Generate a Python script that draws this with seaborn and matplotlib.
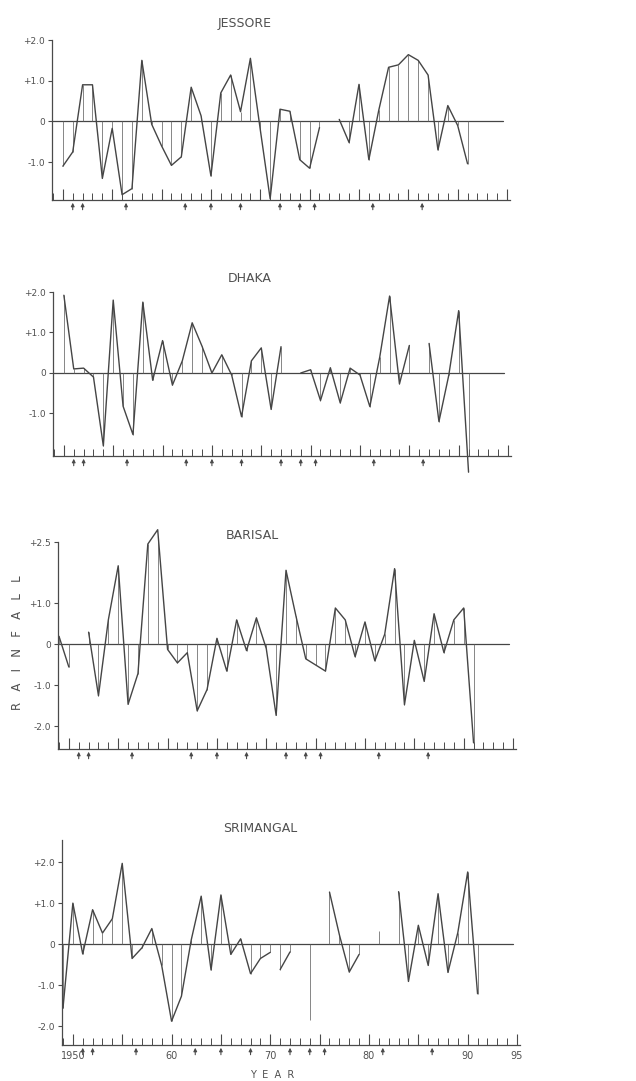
import numpy as np
import pandas as pd
import matplotlib
matplotlib.use('Agg')
import matplotlib.pyplot as plt
from matplotlib.ticker import MultipleLocator, FixedLocator
import seaborn as sns

'''
Dados lidos da figura (anomalia de chuva padronizada)
'''
nan = np.nan
years_49 = list(range(1949, 1992))
years_50 = list(range(1950, 1992))

jessore = [-1.1, -0.75, 0.9, 0.9, -1.4, -0.17, -1.8, -1.65, 1.5, -0.07,
           -0.6, -1.08, -0.87, 0.84, 0.14, -1.34, 0.7, 1.14, 0.24, 1.55,
           -0.2, -1.9, 0.3, 0.25, -0.94, -1.15, -0.15, nan, 0.05, -0.52,
           0.91, -0.94, 0.27, 1.33, 1.39, 1.64, 1.5, 1.14, -0.7, 0.39,
           -0.1, -1.04]

dhaka = [1.92, 0.1, 0.12, -0.1, -1.8, 1.8, -0.82, -1.52, 1.75, -0.18,
         0.8, -0.3, 0.3, 1.24, 0.66, 0.0, 0.45, -0.05, -1.08, 0.3,
         0.62, -0.9, 0.65, nan, 0.0, 0.08, -0.68, 0.13, -0.74, 0.12,
         -0.05, -0.83, 0.39, 1.9, -0.27, 0.68, nan, 0.73, -1.2, -0.05,
         1.54, -2.45]

barisal = [0.2, -0.55, nan, 0.3, -1.25, 0.6, 1.92, -1.46, -0.71, 2.45, 2.8,
           -0.12, -0.45, -0.2, -1.62, -1.1, 0.15, -0.65, 0.6, -0.15, 0.65,
           -0.1, -1.73, 1.81, 0.7, -0.35, -0.5, -0.65, 0.89, 0.6, -0.3,
           0.55, -0.4, 0.25, 1.85, -1.47, 0.1, -0.9, 0.75, -0.2, 0.6,
           0.89, -2.4]

srimangal = [-1.56, 1.0, -0.24, 0.84, 0.27, 0.62, 1.97, -0.35, -0.09, 0.38, -0.52,
             -1.88, -1.27, 0.11, 1.17, -0.63, 1.2, -0.25, 0.13, -0.72, -0.35,
             -0.2, -0.62, -0.19, nan, -1.84, nan, 1.27, 0.23, -0.68, -0.25,
             nan, 0.32, nan, 1.28, -0.91, 0.46, -0.52, 1.23, -0.69, 0.28,
             1.76, -1.21]

# anos marcados com seta abaixo do eixo
arrow_years = [1951, 1952, 1956.4, 1962.4, 1965, 1968, 1972, 1974, 1975.5, 1981.4, 1986.4]

stations = ['JESSORE', 'DHAKA', 'BARISAL', 'SRIMANGAL']
station_years = [years_50, years_50, years_49, years_49]
station_values = [jessore, dhaka, barisal, srimangal]
station_gaps = [[], [], [], [1971]]

ytick_vals = [[2, 1, 0, -1], [2, 1, 0, -1], [2.5, 1, 0, -1, -2], [2, 1, 0, -1, -2]]
ytick_text = [['+2.0', '+1.0', '0', '-1.0'],
              ['+2.0', '+1.0', '0', '-1.0'],
              ['+2.5', '+1.0', '0', '-1.0', '-2.0'],
              ['+2.0', '+1.0', '0', '-1.0', '-2.0']]
ylims = [(-1.93, 2.0), (-2.05, 2.0), (-2.55, 2.5), (-2.46, 2.54)]

xtick_text = ['1950', '', '60', '', '70', '', '80', '', '90', '95']

'''
Layout (pixels da figura original 636x1081)
'''
W, H = 636, 1081
# left, top, bottom
boxes = [(52, 40, 200), (53, 292, 456), (58, 542, 749), (62, 840, 1045)]
AX_W = 458
XLIM = (1948.9, 1995.3)
titles_xy = [(245, 24), (250, 279), (252, 535), (260, 828)]

LINE = '#454545'
DROP = '#666666'
AXC = '#4a4a4a'
TXT = '#505050'

sns.set_theme(style='white')
plt.rcParams['font.family'] = ['DejaVu Sans']

fig = plt.figure(figsize=(W / 100, H / 100), dpi=100)
fig.patch.set_facecolor('white')

for i, name in enumerate(stations):
    left, top, bottom = boxes[i]
    ax = fig.add_axes([left / W, 1 - bottom / H, AX_W / W, (bottom - top) / H])
    ax.set_facecolor('white')

    df = pd.DataFrame({'year': station_years[i], 'value': station_values[i]})
    brk = df['value'].isna() | df['year'].isin(station_gaps[i])
    df['seg'] = brk.cumsum()
    df = df.dropna()

    # linha zero
    ax.plot([XLIM[0], 1994.6], [0, 0], color=LINE, lw=0.9)
    # linhas verticais ate o zero
    ax.vlines(df['year'], 0, df['value'], color=DROP, lw=0.55)
    sns.lineplot(data=df, x='year', y='value', units='seg', estimator=None,
                 color=LINE, lw=1.0, ax=ax, legend=False)
    for ln in ax.lines:
        ln.set_clip_on(False)
        ln.set_solid_joinstyle('round')

    ax.set_xlim(*XLIM)
    ax.set_ylim(*ylims[i])
    ax.set_xlabel('')
    ax.set_ylabel('')

    for s in ['top', 'right']:
        ax.spines[s].set_visible(False)
    for s in ['left', 'bottom']:
        ax.spines[s].set_color(AXC)
        ax.spines[s].set_linewidth(0.9)

    ax.xaxis.set_major_locator(FixedLocator(list(range(1950, 1996, 5))))
    ax.xaxis.set_minor_locator(MultipleLocator(1))
    ax.tick_params(axis='x', which='major', direction='in', length=8, width=0.8,
                   color=AXC, bottom=True, labelsize=7, labelcolor=TXT, pad=4)
    ax.tick_params(axis='x', which='minor', direction='in', length=5, width=0.7,
                   color=AXC, bottom=True)
    if i == len(stations) - 1:
        ax.set_xticklabels(xtick_text)
    else:
        ax.set_xticklabels([])

    ax.set_yticks(ytick_vals[i])
    ax.set_yticklabels(ytick_text[i])
    ax.tick_params(axis='y', direction='out', length=3, width=0.8, color=AXC,
                   left=True, labelsize=6.5, labelcolor=TXT, pad=2)

    # setas
    for yr in arrow_years:
        ax.annotate('', xy=(yr, 0), xycoords=ax.get_xaxis_transform(),
                    xytext=(0, -7), textcoords='offset points',
                    arrowprops=dict(arrowstyle='-|>', color=AXC, lw=0.8,
                                    mutation_scale=5, shrinkA=0, shrinkB=2))

    tx, ty = titles_xy[i]
    fig.text(tx / W, 1 - ty / H, name, ha='center', va='center',
             fontsize=9, color=TXT)

fig.text(18 / W, 1 - 643 / H, 'R   A   I   N   F   A   L   L', rotation=90,
         ha='center', va='center', fontsize=8.5, color=TXT)
fig.text(272 / W, 1 - 1075 / H, 'Y  E  A  R', ha='center', va='center',
         fontsize=7, color=TXT)

fig.savefig('out.png', dpi=100, facecolor='white')
